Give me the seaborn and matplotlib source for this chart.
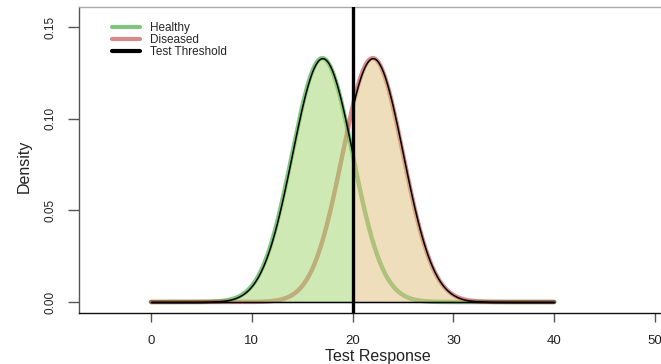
import numpy as np
import pandas as pd
import matplotlib
matplotlib.use("Agg")
import matplotlib.pyplot as plt
import seaborn as sns
from matplotlib.lines import Line2D

# ---- data (normal densities) ----
groups = ["Healthy", "Diseased"]
group_means = [17, 22]
group_sds = [3, 3]
x_range = [0, 40]
threshold = 20
x_ticks = [0, 10, 20, 30, 40, 50]
y_ticks = [0.00, 0.05, 0.10, 0.15]
y_tick_labels = ["0.00", "0.05", "0.10", "0.15"]

line_colors = {"Healthy": (0/255, 139/255, 0/255, 0.5),
               "Diseased": (178/255, 20/255, 20/255, 0.5)}
fill_colors = {"Healthy": (161/255, 213/255, 107/255, 0.5),
               "Diseased": (223/255, 191/255, 121/255, 0.5)}

x = np.linspace(x_range[0], x_range[1], 801)
frames = []
for g, m, s in zip(groups, group_means, group_sds):
    d = np.exp(-0.5 * ((x - m) / s) ** 2) / (s * np.sqrt(2 * np.pi))
    frames.append(pd.DataFrame({"x": x, "density": d, "group": g}))
df = pd.concat(frames, ignore_index=True)

sns.set_theme(style="white")
plt.rcParams["font.family"] = ["Liberation Sans", "DejaVu Sans"]

fig = plt.figure(figsize=(6.61, 3.64), dpi=100)
ax = fig.add_axes([79/661, 51/364, 648/661, 306/364])

# thick translucent curves first
sns.lineplot(data=df, x="x", y="density", hue="group", palette=line_colors,
             linewidth=3.2, ax=ax, legend=False, sort=True, zorder=2)

# translucent filled regions with black border drawn on top of the curves
h = df[df.group == "Healthy"]
dd = df[df.group == "Diseased"]
left = h[h.x <= threshold]
right = dd[dd.x >= threshold]
ax.fill_between(left.x, 0, left.density, facecolor=fill_colors["Healthy"],
                edgecolor="black", linewidth=1.1, zorder=3)
ax.fill_between(right.x, 0, right.density, facecolor=fill_colors["Diseased"],
                edgecolor="black", linewidth=1.1, zorder=3)

ax.axvline(threshold, color="black", linewidth=2.4, zorder=4)

ax.set_xlim(-7.14, 57.14)
ax.set_ylim(-0.0060, 0.1609)
ax.set_xticks(x_ticks)
ax.set_xticklabels([str(t) for t in x_ticks], fontsize=9.5, color="#222222")
ax.set_yticks(y_ticks)
ax.set_yticklabels(y_tick_labels, rotation=90, va="center", fontsize=8.5, color="#222222")
ax.tick_params(axis="x", direction="out", length=6.5, width=1, color="#555555",
               pad=9, bottom=True)
ax.tick_params(axis="y", direction="out", length=8, width=1, color="#555555",
               pad=8.5, left=True)

for side in ["left", "bottom", "top", "right"]:
    ax.spines[side].set_visible(True)
ax.spines["left"].set_color("#555555")
ax.spines["bottom"].set_color("#111111")
ax.spines["top"].set_color("#aaaaaa")
ax.spines["right"].set_color("#aaaaaa")
for s in ax.spines.values():
    s.set_linewidth(1.0)

ax.set_xlabel("Test Response", fontsize=11.5, color="#222222")
ax.set_ylabel("Density", fontsize=11.5, color="#222222")
ax.xaxis.set_label_coords(0.461, -0.118)
ax.yaxis.set_label_coords(-0.0725, 0.48)

handles = [Line2D([], [], color=line_colors["Healthy"], lw=3),
           Line2D([], [], color=line_colors["Diseased"], lw=3),
           Line2D([], [], color="black", lw=3)]
leg = ax.legend(handles, ["Healthy", "Diseased", "Test Threshold"],
                loc="upper left", bbox_to_anchor=(0.051, 0.952), frameon=False,
                fontsize=8.5, handlelength=2.4, handletextpad=0.8,
                labelspacing=0.0, borderpad=0, borderaxespad=0)

fig.savefig("out.png", dpi=100)
